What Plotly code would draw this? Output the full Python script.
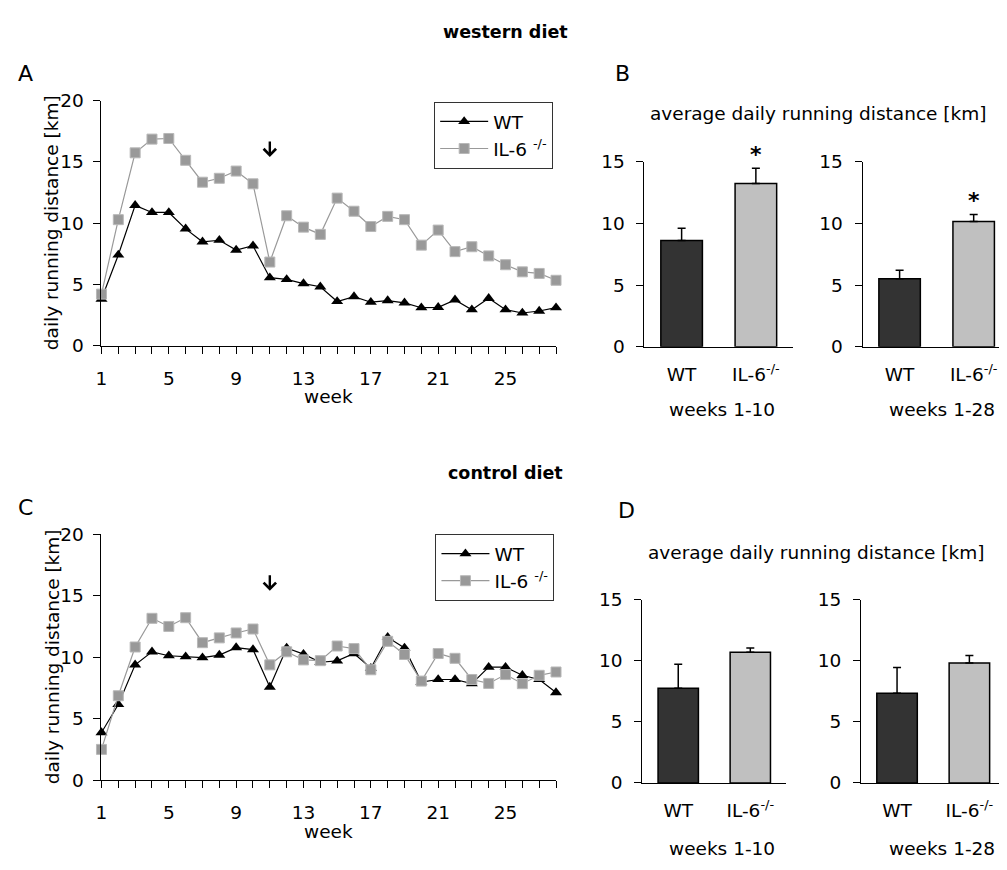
import plotly.graph_objects as go

# ---------------- data ----------------
weeks = list(range(1, 29))
week_tick_text = {1: "1", 5: "5", 9: "9", 13: "13", 17: "17", 21: "21", 25: "25"}

wt_western = [3.8, 7.4, 11.45, 10.87, 10.87, 9.53, 8.47, 8.6, 7.8, 8.15,
              5.54, 5.4, 5.06, 4.8, 3.6, 4.0, 3.54, 3.67, 3.49, 3.09,
              3.12, 3.73, 2.93, 3.86, 2.93, 2.66, 2.82, 3.09]
il6_western = [4.2, 10.28, 15.74, 16.86, 16.91, 15.13, 13.34, 13.66, 14.25, 13.21,
               6.82, 10.6, 9.67, 9.08, 12.04, 10.97, 9.72, 10.55, 10.28, 8.2,
               9.43, 7.67, 8.07, 7.32, 6.6, 6.02, 5.89, 5.33]
wt_control = [3.88, 6.16, 9.38, 10.44, 10.12, 10.04, 9.96, 10.17, 10.78, 10.62,
              7.58, 10.75, 10.25, 9.59, 9.7, 10.3, 9.11, 11.62, 10.75, 7.98,
              8.19, 8.19, 7.85, 9.19, 9.19, 8.53, 8.19, 7.13]
il6_control = [2.51, 6.87, 10.83, 13.16, 12.5, 13.21, 11.18, 11.57, 11.97, 12.29,
               9.38, 10.44, 9.78, 9.72, 10.91, 10.7, 8.98, 11.29, 10.22, 8.06,
               10.3, 9.91, 8.19, 7.87, 8.59, 7.85, 8.53, 8.8]
arrow_week = 11

groups = ["WT", "IL-6<sup>-/-</sup>"]
western_1_10 = [8.62, 13.23]
western_1_10_err = [0.98, 1.24]
western_1_28 = [5.51, 10.15]
western_1_28_err = [0.69, 0.58]
control_1_10 = [7.75, 10.71]
control_1_10_err = [1.98, 0.35]
control_1_28 = [7.35, 9.83]
control_1_28_err = [2.11, 0.61]
western_1_10_sig = [False, True]
western_1_28_sig = [False, True]

# ---------------- style ----------------
PAGE_W, PAGE_H = 1007, 870
OFF = 8                      # default page body margin
W, H = PAGE_W - OFF, PAGE_H - OFF
FONT = "DejaVu Sans"
FS = 18.5
WT_COLOR = "#000000"
IL_COLOR = "#999999"
BAR_COLORS = ["#333333", "#c0c0c0"]


def fx(px):
    return min(1.0, max(0.0, (px - OFF) / W))


def fy(py):
    return min(1.0, max(0.0, 1 - (py - OFF) / H))


fig = go.Figure()

# ---------------- line charts ----------------
line_panels = [
    ("x", "y", wt_western, il6_western, "legend"),
    ("x2", "y2", wt_control, il6_control, "legend2"),
]
for xa, ya, wt, il, lg in line_panels:
    fig.add_trace(go.Scatter(
        x=weeks, y=wt, xaxis=xa, yaxis=ya, name="WT", legend=lg,
        mode="lines+markers", cliponaxis=False,
        line=dict(color=WT_COLOR, width=1.2),
        marker=dict(symbol="triangle-up", size=10.5, color=WT_COLOR),
    ))
    fig.add_trace(go.Scatter(
        x=weeks, y=il, xaxis=xa, yaxis=ya, name="IL-6 <sup>-/-</sup>", legend=lg,
        mode="lines+markers", cliponaxis=False,
        line=dict(color=IL_COLOR, width=1.2),
        marker=dict(symbol="square", size=10, color=IL_COLOR,
                    line=dict(color="#b8b8b8", width=1)),
    ))

# ---------------- bar charts ----------------
bar_panels = [
    ("x3", "y3", western_1_10, western_1_10_err, western_1_10_sig),
    ("x4", "y4", western_1_28, western_1_28_err, western_1_28_sig),
    ("x5", "y5", control_1_10, control_1_10_err, [False, False]),
    ("x6", "y6", control_1_28, control_1_28_err, [False, False]),
]
for xa, ya, vals, errs, sig in bar_panels:
    fig.add_trace(go.Bar(
        x=groups, y=vals, xaxis=xa, yaxis=ya, showlegend=False,
        marker=dict(color=BAR_COLORS, line=dict(color="#000000", width=1.5)),
        error_y=dict(type="data", symmetric=False, array=errs,
                     arrayminus=[0] * len(errs), color="#000000",
                     thickness=1.5, width=4),
    ))
    for g, v, e, s in zip(groups, vals, errs, sig):
        if s:
            fig.add_annotation(x=g, y=v + e, xref=xa, yref=ya, text="<b>*</b>",
                               showarrow=False, yanchor="bottom", yshift=-1,
                               font=dict(size=22, family=FONT, color="#000"))

# ---------------- axes ----------------
axis_common = dict(showline=True, linecolor="#000000", linewidth=1,
                   showgrid=False, zeroline=False, ticks="outside",
                   tickcolor="#000000", ticklen=7, tickwidth=1,
                   tickfont=dict(size=FS, family=FONT, color="#000"))

line_x = dict(axis_common, range=[1, 28], tickvals=weeks,
              ticktext=[week_tick_text.get(w, "") for w in weeks],
              ticklabelstandoff=9, domain=[fx(96), fx(553.3)])
line_y = dict(axis_common, range=[0, 20], tickvals=[0, 5, 10, 15, 20],
              ticklabelstandoff=6)

bar_x = dict(axis_common, ticks="", ticklabelstandoff=11, type="category")
bar_y = dict(axis_common, range=[0, 15], tickvals=[0, 5, 10, 15],
             ticklabelstandoff=8)

fig.update_layout(
    xaxis=dict(line_x, anchor="y"),
    yaxis=dict(line_y, anchor="x", domain=[fy(342.7), fy(91.7)]),
    xaxis2=dict(line_x, anchor="y2"),
    yaxis2=dict(line_y, anchor="x2", domain=[fy(788.3), fy(536)]),
    xaxis3=dict(bar_x, anchor="y3", domain=[fx(642.3), fx(791.7)], range=[-0.5, 1.5]),
    yaxis3=dict(bar_y, anchor="x3", domain=[fy(344), fy(154.3)]),
    xaxis4=dict(bar_x, anchor="y4", domain=[fx(861.7), 1.0], range=[-0.5, 1.45]),
    yaxis4=dict(bar_y, anchor="x4", domain=[fy(344), fy(154.3)]),
    xaxis5=dict(bar_x, anchor="y5", domain=[fx(640), fx(785)], range=[-0.5, 1.5]),
    yaxis5=dict(bar_y, anchor="x5", domain=[fy(791), fy(603.3)]),
    xaxis6=dict(bar_x, anchor="y6", domain=[fx(860), 1.0], range=[-0.5, 1.52]),
    yaxis6=dict(bar_y, anchor="x6", domain=[fy(791), fy(603.3)]),
    bargap=0.44,
)

legend_style = dict(font=dict(size=FS, family=FONT, color="#000"),
                    bordercolor="#333333", borderwidth=1, bgcolor="#ffffff",
                    xanchor="left", yanchor="top", tracegroupgap=0,
                    itemwidth=48)
fig.update_layout(
    legend=dict(legend_style, x=fx(430.7), y=fy(93)),
    legend2=dict(legend_style, x=fx(432), y=fy(536)),
)

# ---------------- text annotations ----------------
def text(xp, yp, s, size=FS, bold=False, angle=0):
    fig.add_annotation(x=fx(xp), y=fy(yp), xref="paper", yref="paper",
                       text=f"<b>{s}</b>" if bold else s, showarrow=False,
                       xanchor="center", yanchor="middle", textangle=angle,
                       font=dict(size=size, family=FONT, color="#000"))

text(502, 21, "western diet", size=17.5, bold=True)
text(502, 473, "control diet", size=17.5, bold=True)
text(20, 64, "A", size=22)
text(20, 509, "C", size=22)
text(620, 64, "B", size=22)
text(624, 512, "D", size=22)
text(46.5, 217, "daily running distance [km]", angle=-90)
text(46.5, 662, "daily running distance [km]", angle=-90)
text(324, 395, "week")
text(324, 840.6, "week")
text(817.5, 105, "average daily running distance [km]")
text(815.5, 555, "average daily running distance [km]")
text(720.7, 408.5, "weeks 1-10")
text(942, 408.5, "weeks 1-28")
text(720, 858, "weeks 1-10")
text(941.5, 858, "weeks 1-28")

# arrows marking week 11
for xa, ya, tip in [("x", "y", 15.4), ("x2", "y2", 15.4)]:
    fig.add_annotation(x=arrow_week, y=tip, xref=xa, yref=ya, ax=0, ay=-17,
                       showarrow=True, arrowhead=4, arrowsize=1.0,
                       arrowwidth=2.4, arrowcolor="#000000", text="")

fig.update_layout(
    width=W, height=H, margin=dict(l=0, r=0, t=0, b=0),
    paper_bgcolor="#ffffff", plot_bgcolor="#ffffff",
    font=dict(family=FONT, size=FS, color="#000"),
)

fig.write_html("out.html")
